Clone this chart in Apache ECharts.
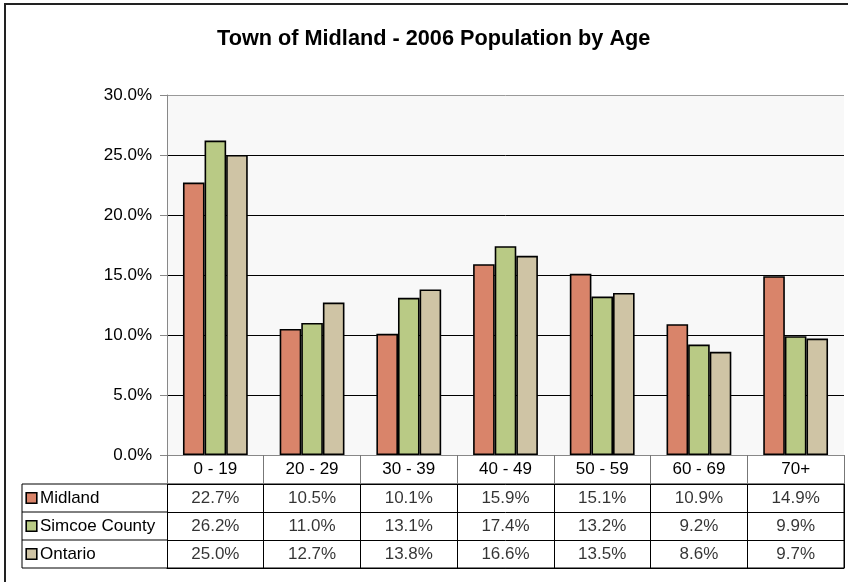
<!doctype html>
<html lang="en">
<head>
    <meta charset="UTF-8">
    <title>Town of Midland - 2006 Population by Age</title>
    <style>
        html, body { margin: 0; padding: 0; background: #fff; }
        #chart { width: 848px; height: 582px; }
    </style>
</head>
<body>
<div id="chart"></div>
<script src="https://cdn.jsdelivr.net/npm/echarts@6/dist/echarts.min.js"></script>
<script>
    // age groups and population share (%)
    var categories = ['0 - 19', '20 - 29', '30 - 39', '40 - 49', '50 - 59', '60 - 69', '70+'];
    var seriesNames = ['Midland', 'Simcoe County', 'Ontario'];
    var midland = [22.7, 10.5, 10.1, 15.9, 15.1, 10.9, 14.9];
    var simcoe = [26.2, 11.0, 13.1, 17.4, 13.2, 9.2, 9.9];
    var ontario = [25.0, 12.7, 13.8, 16.6, 13.5, 8.6, 9.7];
    var yTicks = [0, 5, 10, 15, 20, 25, 30];

    var colors = ['#D9846A', '#B9CA85', '#CFC4A5'];
    var allData = [midland, simcoe, ontario];
    var font = 'Liberation Sans, Arial, sans-serif';
    var fs = 17;

    var myChart = echarts.init(document.getElementById('chart'));

    var barSeries = allData.map(function (d, i) {
        return {
            name: seriesNames[i],
            type: 'bar',
            xAxisIndex: 0,
            yAxisIndex: 0,
            data: d,
            barGap: '0%',
            barCategoryGap: '33%',
            itemStyle: {color: colors[i], borderColor: '#000', borderWidth: 1.6},
            silent: true
        };
    });

    // table cells
    var cells = [];
    allData.forEach(function (d, r) {
        d.forEach(function (v, c) {
            cells.push([c, r, v]);
        });
    });

    var rich = {t: {fontSize: fs, fontFamily: font, color: '#000', padding: [0, 0, 0, 4]}};
    colors.forEach(function (c, i) {
        rich['m' + i] = {width: 9, height: 9, backgroundColor: c, borderColor: '#000', borderWidth: 1.6};
    });

    myChart.setOption({
        animation: false,
        backgroundColor: '#fff',
        title: {
            text: 'Town of Midland - 2006 Population by Age',
            left: 212,
            top: 23,
            textStyle: {fontFamily: font, fontSize: 21.7, fontWeight: 'bold', color: '#000'}
        },
        grid: [
            {left: 167, top: 95, width: 677, height: 360, show: true, backgroundColor: '#F8F8F8', borderWidth: 0},
            {left: 167, top: 484, width: 677, height: 84}
        ],
        xAxis: [{
            type: 'category',
            gridIndex: 0,
            data: categories,
            axisLine: {lineStyle: {color: '#888', width: 1}},
            axisTick: {show: true, interval: 0, length: 29, lineStyle: {color: '#777'}},
            axisLabel: {margin: 6, fontSize: fs, fontFamily: font, color: '#000', interval: 0}
        }, {
            type: 'category',
            gridIndex: 1,
            data: categories,
            axisLine: {show: true, lineStyle: {color: '#000'}},
            axisTick: {show: false},
            axisLabel: {show: false},
            splitLine: {show: true, interval: 0, lineStyle: {color: '#000', width: 1}}
        }],
        yAxis: [{
            type: 'value',
            gridIndex: 0,
            min: yTicks[0],
            max: yTicks[yTicks.length - 1],
            interval: 5,
            axisLine: {show: true, lineStyle: {color: '#888'}},
            axisTick: {show: true, length: 7, lineStyle: {color: '#888'}},
            axisLabel: {
                margin: 15, fontSize: fs, fontFamily: font, color: '#000',
                formatter: function (v) { return v.toFixed(1) + '%'; }
            },
            splitLine: {
                show: true,
                lineStyle: {color: ['#888', '#000', '#000', '#000', '#000', '#000', '#999'], width: 1}
            }
        }, {
            type: 'category',
            gridIndex: 1,
            inverse: true,
            data: seriesNames,
            axisLine: {show: true, lineStyle: {color: '#000'}},
            axisTick: {show: false},
            splitLine: {show: true, interval: 0, lineStyle: {color: '#000', width: 1}},
            axisLabel: {
                align: 'left',
                margin: 140,
                formatter: function (v, i) { return '{m' + i + '|}{t|' + v + '}'; },
                rich: rich
            }
        }],
        series: barSeries.concat([{
            type: 'scatter',
            xAxisIndex: 1,
            yAxisIndex: 1,
            data: cells,
            symbolSize: 0,
            silent: true,
            label: {
                show: true,
                position: 'inside',
                fontSize: fs,
                fontFamily: font,
                color: '#000',
                formatter: function (p) { return p.value[2].toFixed(1) + '%'; }
            }
        }]),
        graphic: [
            {type: 'rect', shape: {x: 5, y: 4, width: 900, height: 700}, style: {fill: 'none', stroke: '#222', lineWidth: 2}, silent: true},
            {type: 'rect', shape: {x: 22, y: 484, width: 822, height: 84}, style: {fill: 'none', stroke: '#000', lineWidth: 1}, silent: true},
            {type: 'line', shape: {x1: 22, y1: 512, x2: 167, y2: 512}, style: {stroke: '#000', lineWidth: 1}, silent: true},
            {type: 'line', shape: {x1: 22, y1: 540, x2: 167, y2: 540}, style: {stroke: '#000', lineWidth: 1}, silent: true}
        ]
    });
</script>
</body>
</html>
